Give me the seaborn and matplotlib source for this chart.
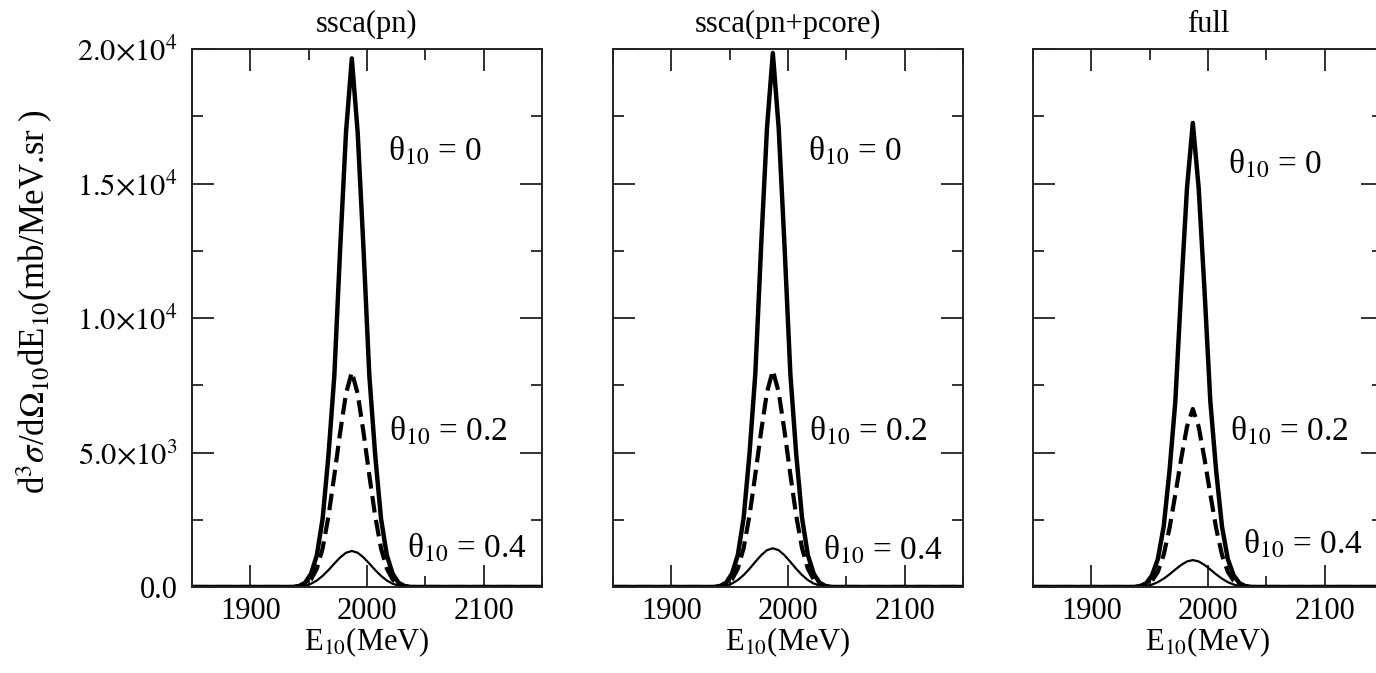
import numpy as np
import pandas as pd
import seaborn as sns
import matplotlib.pyplot as plt
from matplotlib.ticker import MultipleLocator

# energy grid (MeV)
energy = [1850, 1900, 1930, 1937, 1942, 1947, 1952, 1957, 1962, 1967, 1972, 1977, 1982,
          1987, 1992, 1997, 2002, 2007, 2012, 2017, 2022, 2027, 2032, 2037, 2045, 2100, 2150]

# ssca(pn)
pn_t00 = [0, 0, 0, 0, 40, 160, 490, 1180, 2550, 4910, 7860, 12580, 16900,
          19650, 16900, 12580, 7860, 4910, 2550, 1180, 490, 160, 40, 0, 0, 0, 0]
pn_t02 = [0, 0, 0, 0, 24, 96, 280, 680, 1440, 2640, 4150, 5750, 7190,
          7990, 7190, 5750, 4150, 2640, 1440, 680, 280, 96, 24, 0, 0, 0, 0]
pn_t04 = [0, 0, 0, 5, 20, 54, 121, 241, 415, 630, 871, 1099, 1273,
          1340, 1273, 1099, 871, 630, 415, 241, 121, 54, 20, 5, 0, 0, 0]

# ssca(pn+pcore)
pc_t00 = [0, 0, 0, 0, 40, 160, 500, 1190, 2580, 4960, 7940, 12700, 17070,
          19850, 17070, 12700, 7940, 4960, 2580, 1190, 500, 160, 40, 0, 0, 0, 0]
pc_t02 = [0, 0, 0, 0, 24, 97, 282, 684, 1449, 2657, 4186, 5796, 7245,
          8050, 7245, 5796, 4186, 2657, 1449, 684, 282, 97, 24, 0, 0, 0, 0]
pc_t04 = [0, 0, 0, 6, 22, 58, 130, 259, 446, 677, 936, 1181, 1368,
          1440, 1368, 1181, 936, 677, 446, 259, 130, 58, 22, 6, 0, 0, 0]

# full
fu_t00 = [0, 0, 0, 0, 35, 138, 431, 1035, 2243, 4313, 6900, 11040, 14835,
          17250, 14835, 11040, 6900, 4313, 2243, 1035, 431, 138, 35, 0, 0, 0, 0]
fu_t02 = [0, 0, 0, 0, 20, 79, 232, 563, 1192, 2185, 3442, 4766, 5958,
          6620, 5958, 4766, 3442, 2185, 1192, 563, 232, 79, 20, 0, 0, 0, 0]
fu_t04 = [0, 0, 0, 4, 15, 40, 90, 180, 310, 470, 650, 820, 950,
          1000, 950, 820, 650, 470, 310, 180, 90, 40, 15, 4, 0, 0, 0]

titles = ["ssca(pn)", "ssca(pn+pcore)", "full"]
panels = [(pn_t00, pn_t02, pn_t04), (pc_t00, pc_t02, pc_t04), (fu_t00, fu_t02, fu_t04)]
angle_labels = ["0", "0.2", "0.4"]
# label anchor (E, value) per panel for theta = 0, 0.2, 0.4
label_pos = [[(2018, 16200), (2019, 5800), (2034, 1450)],
             [(2017, 16200), (2018, 5800), (2030, 1350)],
             [(2017, 15700), (2019, 5800), (2030, 1600)]]

yticks = [0, 5000, 10000, 15000, 20000]
ytick_labels = ["0.0", r"$5.0{\times}10^{3}$", r"$1.0{\times}10^{4}$",
                r"$1.5{\times}10^{4}$", r"$2.0{\times}10^{4}$"]
xticks = [1900, 2000, 2100]

sns.set_theme(style="ticks")
plt.rcParams["font.family"] = ["Liberation Serif", "DejaVu Serif"]
plt.rcParams["mathtext.fontset"] = "stix"
plt.rcParams["text.color"] = "black"
plt.rcParams["axes.labelcolor"] = "black"
plt.rcParams["xtick.labelcolor"] = "black"
plt.rcParams["ytick.labelcolor"] = "black"

fig = plt.figure(figsize=(13.76, 6.73), dpi=100)
lefts = [192, 613, 1033]
axes = [fig.add_axes([l / 1376, 86 / 673, 350 / 1376, 538 / 673]) for l in lefts]

styles = [dict(lw=3.2, linestyle="-"),
          dict(lw=3.0, linestyle=(0, (4, 1.8))),
          dict(lw=1.6, linestyle="-")]

for i, ax in enumerate(axes):
    for vals, st in zip(panels[i], styles):
        df = pd.DataFrame({"E": energy, "y": vals})
        sns.lineplot(data=df, x="E", y="y", ax=ax, color="black", **st)
    for lab, (ex, ey) in zip(angle_labels, label_pos[i]):
        ax.text(ex, ey, "θ$_{10}$ = " + lab, fontsize=24, va="center", ha="left")

    ax.set_xlim(1850, 2150)
    ax.set_ylim(0, 20000)
    ax.set_xticks(xticks)
    ax.xaxis.set_minor_locator(MultipleLocator(50))
    ax.set_yticks(yticks)
    ax.yaxis.set_minor_locator(MultipleLocator(2500))
    ax.tick_params(which="both", direction="in", top=True, right=True, width=1.3, color="#222222")
    ax.tick_params(which="major", length=16)
    ax.tick_params(which="minor", length=8)
    ax.tick_params(axis="x", labelsize=22, pad=7)
    ax.tick_params(axis="y", labelsize=22, pad=10)
    for s in ax.spines.values():
        s.set_linewidth(1.4)
        s.set_color("#222222")
    ax.set_title(titles[i], fontsize=22, pad=12)
    ax.set_xlabel("E$_{10}$(MeV)", fontsize=22, labelpad=0)
    if i == 0:
        ax.set_yticklabels(ytick_labels)
        ax.set_ylabel(r"d$^{3}\sigma$/d$\Omega_{10}$dE$_{10}$(mb/MeV.sr )", fontsize=25)
        ax.yaxis.set_label_coords(-0.39, 0.53)
    else:
        ax.set_yticklabels([])
        ax.set_ylabel("")

fig.savefig("out.png", dpi=100)
